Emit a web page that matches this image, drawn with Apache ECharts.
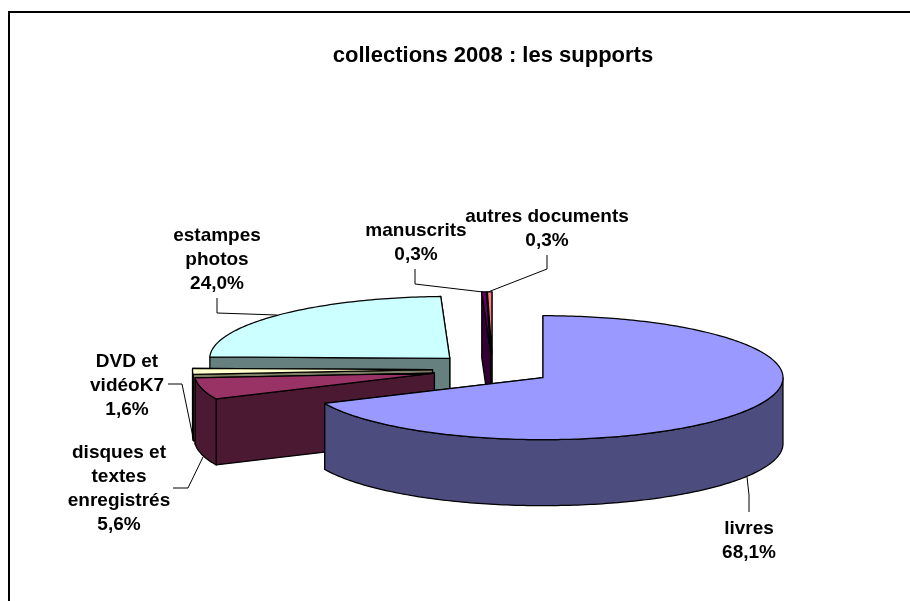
<!DOCTYPE html>
<html>
<head>
<meta charset="utf-8">
<title>collections 2008 : les supports</title>
<style>
  html, body { margin: 0; padding: 0; background: #ffffff; }
  #chart { width: 910px; height: 601px; }
</style>
<script src="https://cdn.jsdelivr.net/npm/echarts@6/dist/echarts.min.js"></script>
</head>
<body>
<div id="chart"></div>
<script>
const chartTitle = "collections 2008 : les supports";

// clockwise from 12 o'clock
const sliceNames = [
  "livres",
  "disques et\ntextes\nenregistrés",
  "DVD et\nvidéoK7",
  "estampes\nphotos",
  "manuscrits",
  "autres documents",
];
const sliceShares = [68.1, 5.6, 1.6, 24.0, 0.3, 0.3];
const sliceColors = ["#9999ff", "#993366", "#ffffcc", "#ccffff", "#660066", "#ff8080"];
const sideColors = ["#4c4c7f", "#4c1933", "#7f7f66", "#667f7f", "#330033", "#7f4040"];

// back to front
const paintOrder = [3, 5, 4, 2, 1, 0];

const labelCenters = [
  [749, 540.5],
  [119, 489],
  [127, 386],
  [217, 260],
  [416, 243],
  [547, 229],
];
const leaderLines = [
  [[749, 512], [749, 495], [747, 477]],
  [[173, 488], [188, 488], [203, 457]],
  [[168, 384], [182, 384], [194, 442]],
  [[217, 298], [217, 313], [277, 315]],
  [[415, 269], [415, 284], [483, 292]],
  [[547, 255], [547, 269], [488, 292]],
];

const pieCenter = [492.5, 369.3];
const radiusX = 240;
const radiusY = 62;
const pieDepth = 66;
const explode = 0.25;

const labelFont = "bold 19px 'Liberation Sans', Arial, sans-serif";

const shareTotal = sliceShares.reduce((sum, share) => sum + share, 0);


function sliceAngles(index) {
  const before = sliceShares
    .slice(0, index)
    .reduce((sum, share) => sum + share, 0);

  return [
    (before / shareTotal) * 360,
    ((before + sliceShares[index]) / shareTotal) * 360,
  ];
}


function ellipsePoint(apex, degrees, drop) {
  const radians = (degrees * Math.PI) / 180;

  return [
    apex[0] + radiusX * Math.sin(radians),
    apex[1] - radiusY * Math.cos(radians) + drop,
  ];
}


function arcPoints(apex, from, to, drop) {
  const points = [];
  const steps = Math.max(2, Math.ceil(to - from));

  for (let step = 0; step <= steps; step += 1) {
    points.push(ellipsePoint(apex, from + ((to - from) * step) / steps, drop));
  }

  return points;
}


function polygon(points, fill) {
  return {
    type: "polygon",
    shape: { points },
    style: {
      fill,
      stroke: "#000000",
      lineWidth: 1.25,
      lineJoin: "round",
    },
  };
}


function renderSlice(params, api) {
  const index = api.value(1);
  const [start, end] = sliceAngles(index);
  const middle = (((start + end) / 2) * Math.PI) / 180;

  const apex = [
    pieCenter[0] + explode * radiusX * Math.sin(middle),
    pieCenter[1] - explode * radiusY * Math.cos(middle),
  ];
  const apexBelow = [apex[0], apex[1] + pieDepth];

  const children = [];

  // straight cut faces, the one nearer the viewer goes last
  const faces = [start, end].sort(
    (a, b) => ellipsePoint(apex, a, 0)[1] - ellipsePoint(apex, b, 0)[1],
  );

  faces.forEach((angle) => {
    children.push(polygon([
      apex,
      ellipsePoint(apex, angle, 0),
      ellipsePoint(apex, angle, pieDepth),
      apexBelow,
    ], sideColors[index]));
  });

  // rim, only the front half of the ellipse shows
  const rimFrom = Math.max(start, 90);
  const rimTo = Math.min(end, 270);

  if (rimTo > rimFrom) {
    children.push(polygon([
      ...arcPoints(apex, rimFrom, rimTo, 0),
      ...arcPoints(apex, rimFrom, rimTo, pieDepth).reverse(),
    ], sideColors[index]));
  }

  children.push(polygon([
    apex,
    ...arcPoints(apex, start, end, 0),
  ], sliceColors[index]));

  return {
    type: "group",
    children,
  };
}


function formatShare(share) {
  return `${share.toFixed(1).replace(".", ",")}%`;
}


function labelGraphics() {
  const elements = [
    {
      type: "polyline",
      silent: true,
      shape: { points: [[9, 601], [9, 12], [910, 12]] },
      style: { fill: null, stroke: "#000000", lineWidth: 2 },
    },
  ];

  sliceNames.forEach((name, index) => {
    elements.push({
      type: "polyline",
      silent: true,
      shape: { points: leaderLines[index] },
      style: { fill: null, stroke: "#000000", lineWidth: 1 },
    });

    elements.push({
      type: "text",
      silent: true,
      x: labelCenters[index][0],
      y: labelCenters[index][1],
      style: {
        text: `${name}\n${formatShare(sliceShares[index])}`,
        font: labelFont,
        fill: "#000000",
        align: "center",
        verticalAlign: "middle",
        lineHeight: 24,
      },
    });
  });

  return elements;
}


const chart = echarts.init(document.getElementById("chart"));

chart.setOption({
  animation: false,
  backgroundColor: "#ffffff",
  title: {
    text: chartTitle,
    left: 488,
    top: 40,
    textAlign: "center",
    textStyle: {
      fontFamily: "'Liberation Sans', Arial, sans-serif",
      fontWeight: "bold",
      fontSize: 22,
      color: "#000000",
    },
  },
  graphic: labelGraphics(),
  series: [
    {
      type: "custom",
      coordinateSystem: "none",
      silent: true,
      renderItem: renderSlice,
      data: paintOrder.map((index) => [sliceShares[index], index]),
    },
  ],
});
</script>
</body>
</html>
